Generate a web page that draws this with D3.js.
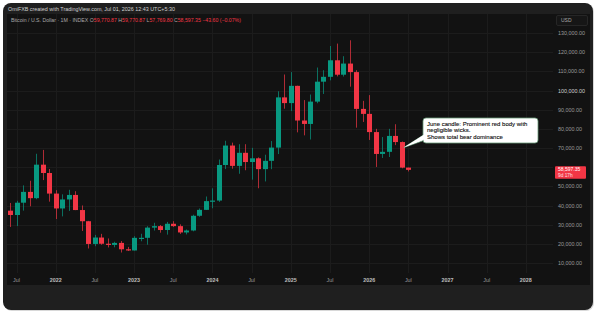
<!DOCTYPE html>
<html><head><meta charset="utf-8">
<script src="https://cdn.jsdelivr.net/npm/d3@7/dist/d3.min.js"></script>
<style>
html,body{margin:0;padding:0;background:#ffffff;}
svg{display:block;font-family:"Liberation Sans",Arial,sans-serif;}
</style></head>
<body><svg id="c" width="600" height="315"></svg>
<script>
// ---- data: monthly candles, Jun 2021 .. Jul 2026 ----
const months = ["2021-06","2021-07","2021-08","2021-09","2021-10","2021-11","2021-12",
"2022-01","2022-02","2022-03","2022-04","2022-05","2022-06","2022-07","2022-08","2022-09","2022-10","2022-11","2022-12",
"2023-01","2023-02","2023-03","2023-04","2023-05","2023-06","2023-07","2023-08","2023-09","2023-10","2023-11","2023-12",
"2024-01","2024-02","2024-03","2024-04","2024-05","2024-06","2024-07","2024-08","2024-09","2024-10","2024-11","2024-12",
"2025-01","2025-02","2025-03","2025-04","2025-05","2025-06","2025-07","2025-08","2025-09","2025-10","2025-11","2025-12",
"2026-01","2026-02","2026-03","2026-04","2026-05","2026-06","2026-07"];
const open  = [37298,35045,41461,47100,43824,61300,56950, 46216,38466,43160,45510,37630,31801,19942,23293,20050,19423,20490,17164,
 16542,23125,23141,28465,29233,27210,30472,29232,25940,26962,34639,37723, 42284,42580,61130,71280,60672,67491,62678,64619,58973,63300,70215,96408,
 93429,102430,84350,82550,94200,104600,107140,115760,108240,114050,109600,90400, 87800,78300,66900,68000,76300,73100,59770.87];
const high  = [41330,42448,50500,52920,67000,69000,59041, 47990,45821,48190,47444,40023,31982,24668,25211,22799,21085,21480,18387,
 23960,25250,29184,31000,29820,31431,31804,30176,27483,35198,38450,44700, 48969,64000,73777,72797,71979,71980,70079,65105,66498,73620,99588,108353,
 109588,102500,95000,97900,111980,110600,123218,124474,117900,126200,110600,94600, 97600,80000,75700,80000,82400,73400,59770.87];
const low   = [28800,29278,37332,39600,43283,53256,42000, 32917,34322,37155,37578,26700,17567,18782,19520,18125,18190,15476,16256,
 16500,21351,19549,26942,25811,24800,28861,25166,24901,26538,34098,37630, 38555,41884,59005,59191,56552,58402,53485,49000,52550,58946,66835,90500,
 89256,78167,76600,74434,93350,98200,105300,107350,107270,102000,80600,83600, 74200,60100,64800,65300,71500,59400,57769.80];
const close = [35045,41461,47100,43824,61300,56950,46216, 38466,43160,45510,37630,31801,19942,23293,20050,19423,20490,17164,16542,
 23125,23141,28465,29233,27210,30472,29232,25940,26962,34639,37723,42284, 42580,61130,71280,60672,67491,62678,64619,58973,63300,70215,96408,93429,
 102430,84350,82550,94200,104600,107140,115760,108240,114050,109600,90400,87800, 78300,66900,68000,76300,73100,59770.87,58597.35];
// axis labels
const priceTicks = [10000,20000,30000,40000,50000,60000,70000,80000,90000,100000,110000,120000,130000];
const timeTickMonths = ["2021-07","2022-01","2022-07","2023-01","2023-07","2024-01","2024-07","2025-01","2025-07","2026-01","2026-07","2027-01","2027-07","2028-01"];
const timeTickLabels = ["Jul","2022","Jul","2023","Jul","2024","Jul","2025","Jul","2026","Jul","2027","Jul","2028"];
const headerText = "OmiFXB created with TradingView.com, Jul 01, 2026 12:43 UTC+5:30";
const symbolText = "Bitcoin / U.S. Dollar · 1M · INDEX";
const ohlcText = [["O","59,770.87"],["H","59,770.87"],["L","57,769.80"],["C","58,597.35"],["","−43.60 (−0.07%)"]];
const lastValue = 58597.35, lastPrice = "58,597.35", countdown = "9d 17h";
const calloutLines = ["June candle: Prominent red body with","negligible wicks.","Shows total bear dominance"];
const calloutMonth = "2026-06";

const UP="#089981", DN="#F23645";
const svg = d3.select("#c");

const mIdx = s => { const [y,m]=s.split("-").map(Number); return (y-2021)*12 + (m-6); };
const x = d3.scaleLinear().domain([0,1]).range([10,16.53]);
const y = d3.scaleLinear().domain([10000,130000]).range([263,33]);

// frame
svg.append("rect").attr("x",4).attr("y",4).attr("width",590).attr("height",307).attr("rx",8).attr("fill","#d8d8d8");
svg.append("rect").attr("x",3).attr("y",3).attr("width",590).attr("height",307).attr("rx",8).attr("fill","#1f1f1f");
svg.append("rect").attr("x",7).attr("y",14).attr("width",583).attr("height",271).attr("fill","#121212");

const plotL=7, plotR=553, plotT=14, plotB=273;

// grid
const g = svg.append("g");
g.selectAll("line.h").data(priceTicks).join("line")
 .attr("x1",plotL).attr("x2",plotR).attr("y1",d=>Math.round(y(d))+0.5).attr("y2",d=>Math.round(y(d))+0.5)
 .attr("stroke","#1c1c1c").attr("stroke-width",1);
g.selectAll("line.v").data(timeTickMonths).join("line")
 .attr("x1",d=>Math.round(x(mIdx(d)))+0.5).attr("x2",d=>Math.round(x(mIdx(d)))+0.5)
 .attr("y1",plotT).attr("y2",plotB).attr("stroke","#1c1c1c").attr("stroke-width",1);

// candles
const data = months.map((m,i)=>({m,o:open[i],h:high[i],l:low[i],c:close[i]}));
const cg = svg.append("g");
cg.selectAll("line.w").data(data).join("line")
 .attr("x1",d=>Math.round(x(mIdx(d.m)))+0.5).attr("x2",d=>Math.round(x(mIdx(d.m)))+0.5)
 .attr("y1",d=>y(d.h)).attr("y2",d=>y(d.l))
 .attr("stroke",d=>d.c>=d.o?UP:DN).attr("stroke-opacity",0.7).attr("stroke-width",1);
cg.selectAll("rect.b").data(data).join("rect")
 .attr("x",d=>Math.round(x(mIdx(d.m)))-2).attr("width",5)
 .attr("y",d=>y(Math.max(d.o,d.c)))
 .attr("height",d=>Math.max(1.2,Math.abs(y(d.o)-y(d.c))))
 .attr("fill",d=>d.c>=d.o?UP:DN);

// price axis (labels hidden under the last-price tag, like TradingView)
const lastY = y(lastValue);
const fmt = d3.format(",.2f");
svg.append("g").selectAll("text").data(priceTicks.filter(d=>Math.abs(y(d)-(lastY+2.5))>9)).join("text")
 .attr("x",558).attr("y",d=>y(d)+2).attr("font-size",5.4)
 .attr("fill",d=>d===100000?"#d0d0d0":"#9a9a9a").text(d=>fmt(d));

// last price tag
svg.append("rect").attr("x",555).attr("y",lastY-3.5).attr("width",31).attr("height",12.5).attr("rx",1).attr("fill",DN);
svg.append("text").attr("x",558).attr("y",lastY+1.6).attr("font-size",5).attr("fill","#fff").text(lastPrice);
svg.append("text").attr("x",558).attr("y",lastY+7.6).attr("font-size",4.8).attr("fill","#fde0e3").text(countdown);

// USD box
svg.append("rect").attr("x",556.5).attr("y",15.5).attr("width",31).attr("height",10).attr("rx",1.5).attr("fill","#161616").attr("stroke","#262626");
svg.append("text").attr("x",561).attr("y",22.3).attr("font-size",5).attr("fill","#aaa").text("USD");

// time axis
svg.append("g").selectAll("text").data(timeTickMonths).join("text")
 .attr("x",d=>x(mIdx(d))).attr("y",281.5).attr("text-anchor","middle").attr("font-size",5.4)
 .attr("font-weight",(d,i)=>timeTickLabels[i]==="Jul"?"normal":"bold")
 .attr("fill",(d,i)=>timeTickLabels[i]==="Jul"?"#9a9a9a":"#bdbdbd")
 .text((d,i)=>timeTickLabels[i]);

// header
svg.append("text").attr("x",8).attr("y",10.5).attr("font-size",5.4).attr("fill","#d0d0d0").text(headerText);
const ht = svg.append("text").attr("x",11).attr("y",21.5).attr("font-size",5.2).attr("fill","#a8a8a8");
ht.append("tspan").text(symbolText+"  ");
ohlcText.forEach(([k,v])=>{
  if(k) ht.append("tspan").attr("fill","#a8a8a8").text(k);
  ht.append("tspan").attr("fill",DN).text(v+"  ");
});

// callout
const cx = x(mIdx(calloutMonth)), cy = y(59800);
const bx=423, by=118, bw=115, bh=25;
svg.append("path").attr("d",`M${bx+2},${by+16} L${cx+2},${cy-20} L${bx+2},${by+22} Z`).attr("fill","#fff").attr("stroke","#6a9a7a").attr("stroke-width",0.8);
svg.append("rect").attr("x",bx).attr("y",by).attr("width",bw).attr("height",bh).attr("rx",3)
 .attr("fill","#ffffff").attr("stroke","#6a9a7a").attr("stroke-width",0.8);
svg.append("path").attr("d",`M${bx+1.2},${by+16.5} L${cx+2},${cy-20} L${bx+1.2},${by+21.5} Z`).attr("fill","#fff");
svg.append("g").selectAll("text").data(calloutLines).join("text")
 .attr("x",bx+4).attr("y",(d,i)=>by+7.5+i*6.6).attr("font-size",6).attr("fill","#111")
 .attr("stroke","#111").attr("stroke-width",0.12).text(d=>d);
</script></body></html>
